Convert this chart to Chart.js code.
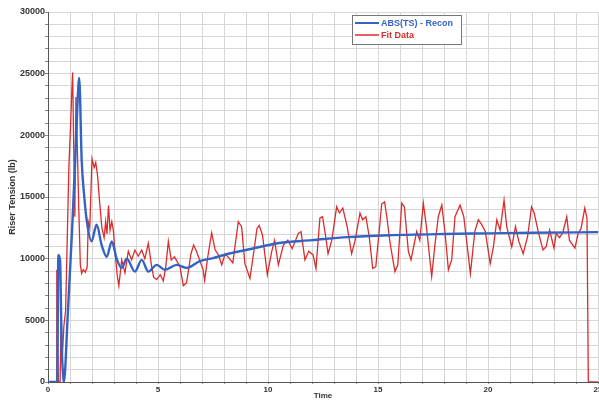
<!DOCTYPE html>
<html>
<head>
<meta charset="utf-8">
<script src="https://cdn.jsdelivr.net/npm/chart.js@4.4.1/dist/chart.umd.min.js"></script>
<style>
    body { margin: 0; background: #fff; }
    #wrap { width: 599px; height: 402px; }
</style>
</head>
<body>
<div id="wrap"><canvas id="tensionChart" width="599" height="402"></canvas></div>
<script>
// Reconstructed riser tension (smooth curve)
const reconTime = [0, 0.42, 0.47, 0.55, 0.62, 0.7, 0.72, 0.9, 1.1, 1.25, 1.35, 1.42, 1.53, 1.65, 1.76, 1.98, 2.21, 2.44,
    2.67, 2.9, 3.12, 3.35, 3.58, 3.95, 4.26, 4.56, 4.94, 5.32, 5.85, 6.3, 6.9, 7.5, 8.2, 9.0, 10.5, 12.0, 13.6, 15.5,
    18, 20, 22, 25];
const reconTension = [0, 0, 10300, 9800, 3000, 300, 0, 5500, 12500, 18500, 23000, 24650, 18000, 15000, 13100, 11400,
    12750, 11100, 10150, 11400, 10000, 9250, 10000, 8950, 9900, 8950, 9500, 9100, 9500, 9250, 9800, 10050, 10400,
    10700, 11270, 11500, 11750, 11900, 12000, 12050, 12100, 12150];

// Measured tension used for the fit
const fitTime = [0, 0.38, 0.4, 0.43, 0.47, 0.55, 0.6, 0.65, 0.72, 0.8, 0.88, 0.95, 1.02, 1.08, 1.12, 1.17, 1.22, 1.27,
    1.32, 1.4, 1.47, 1.53, 1.6, 1.7, 1.78, 1.83, 1.9, 2.0, 2.1, 2.17, 2.25, 2.35, 2.45, 2.55, 2.62, 2.68, 2.75, 2.82,
    2.9, 2.97, 3.05, 3.15, 3.22, 3.35, 3.5, 3.65, 3.8, 3.95, 4.1, 4.26, 4.4, 4.56, 4.7, 4.8, 4.94, 5.1, 5.24, 5.35,
    5.47, 5.6, 5.75, 6.0, 6.15, 6.3, 6.5, 6.62, 6.75, 6.95, 7.05, 7.12, 7.25, 7.44, 7.6, 7.75, 7.9, 8.05, 8.2, 8.4,
    8.5, 8.65, 8.8, 8.95, 9.18, 9.35, 9.5, 9.6, 9.75, 9.97, 10.17, 10.3, 10.47, 10.7, 10.9, 11.1, 11.38, 11.5, 11.68,
    11.85, 12.05, 12.18, 12.36, 12.48, 12.6, 12.73, 12.9, 13.12, 13.25, 13.4, 13.6, 13.8, 13.95, 14.18, 14.3, 14.45,
    14.6, 14.76, 14.9, 15.17, 15.3, 15.4, 15.55, 15.77, 15.9, 16.08, 16.2, 16.38, 16.5, 16.76, 16.9, 17.06, 17.2,
    17.44, 17.58, 17.74, 17.9, 18.05, 18.2, 18.35, 18.5, 18.73, 18.9, 19.2, 19.4, 19.56, 19.7, 19.88, 20.1, 20.25,
    20.4, 20.55, 20.73, 20.85, 21.08, 21.25, 21.4, 21.6, 21.8, 21.98, 22.1, 22.3, 22.5, 22.65, 22.8, 23.0, 23.1,
    23.25, 23.4, 23.58, 23.7, 23.95, 24.1, 24.23, 24.4, 24.5, 24.56, 25];
const fitTension = [0, 0, 9100, 4000, 0, 0, 5500, 2000, 4500, 5800, 12000, 17500, 20500, 23500, 25100, 19000, 13400,
    23100, 20000, 14000, 9500, 8800, 9100, 8900, 9300, 13000, 12500, 18100, 17400, 17800, 16800, 14500, 12500, 11700,
    13000, 12000, 14300, 12300, 13000, 12300, 10500, 8600, 7800, 9900, 8850, 10600, 9900, 10700, 10200, 10700, 10000,
    11250, 9500, 8500, 8300, 8700, 8200, 9300, 11400, 9900, 10150, 9350, 7800, 8050, 10400, 11100, 10600, 9600, 9100,
    8250, 10000, 12100, 10700, 10300, 9500, 10400, 10100, 9650, 11000, 13000, 12600, 9600, 8400, 10500, 12450, 12700,
    11900, 8700, 10600, 11500, 9500, 11100, 11500, 10800, 12050, 12200, 9900, 10600, 10300, 9200, 13300, 13400, 12050,
    10400, 11500, 14200, 13700, 14100, 12600, 10400, 11400, 13700, 13150, 13400, 11800, 9200, 9350, 14450, 14600,
    13400, 11250, 8950, 9500, 14500, 14200, 10600, 9900, 12200, 11500, 14500, 12600, 8550, 11000, 13400, 14350, 12050,
    9100, 9900, 13400, 14350, 13400, 8800, 12200, 13150, 12800, 12200, 9600, 11000, 13150, 12300, 14750, 12600, 10950,
    12600, 11400, 10400, 11800, 14200, 13700, 12050, 10700, 11000, 12300, 10850, 12050, 11700, 12100, 13400, 11500,
    10850, 12050, 12450, 14100, 13300, 0, 0];

const seriesNames = ['ABS(TS) - Recon', 'Fit Data'];
const seriesColors = ['#3563c4', '#dc2b2b'];

const toPoints = (xs, ys) => xs.map((x, i) => ({ x: x, y: ys[i] }));

// boxed legend inside the plot, top centre-right
const boxLegend = {
    id: 'boxLegend',
    afterDraw(chart) {
        const c = chart.ctx;
        const x = 352, y = 15, w = 109, h = 29;
        c.save();
        c.fillStyle = '#fff';
        c.fillRect(x, y, w, h);
        c.strokeStyle = '#777';
        c.lineWidth = 1;
        c.strokeRect(x + 0.5, y + 0.5, w, h);
        c.font = 'bold 9px "Liberation Sans", Arial, sans-serif';
        c.textBaseline = 'middle';
        chart.data.datasets.forEach((ds, i) => {
            const ly = y + 8 + i * 12;
            c.strokeStyle = ds.borderColor;
            c.lineWidth = i === 0 ? 2 : 1.5;
            c.beginPath();
            c.moveTo(x + 3, ly);
            c.lineTo(x + 27, ly);
            c.stroke();
            c.fillStyle = ds.borderColor;
            c.fillText(ds.label, x + 29, ly + 0.5);
        });
        c.restore();
    }
};

const ctx = document.getElementById('tensionChart').getContext('2d');
new Chart(ctx, {
    type: 'line',
    data: {
        datasets: [{
            label: seriesNames[0],
            data: toPoints(reconTime, reconTension),
            borderColor: seriesColors[0],
            borderWidth: 2.4,
            pointRadius: 0,
            cubicInterpolationMode: 'monotone'
        }, {
            label: seriesNames[1],
            data: toPoints(fitTime, fitTension),
            borderColor: seriesColors[1],
            borderWidth: 1.3,
            pointRadius: 0,
            tension: 0
        }]
    },
    options: {
        responsive: false,
        animation: false,
        layout: { padding: { top: 12, right: 1, left: 0, bottom: 0 } },
        plugins: {
            legend: { display: false },
            tooltip: { enabled: false }
        },
        scales: {
            x: {
                type: 'linear',
                min: 0,
                max: 25,
                grid: { color: '#d6d6d6', tickColor: '#888', tickLength: 2 },
                border: { color: '#555' },
                ticks: {
                    stepSize: 1,
                    autoSkip: false,
                    maxRotation: 0,
                    padding: 1,
                    color: '#333',
                    font: { family: '"Liberation Sans", Arial, sans-serif', size: 8, weight: 'bold' },
                    callback: v => (v % 5 === 0 ? v : '')
                },
                title: {
                    display: true,
                    text: 'Time',
                    color: '#333',
                    padding: { top: 0, bottom: 1 },
                    font: { family: '"Liberation Sans", Arial, sans-serif', size: 8, weight: 'bold' }
                },
                afterFit: s => { s.height = 20; s.paddingLeft = 0; s.paddingRight = 0; }
            },
            y: {
                min: 0,
                max: 30000,
                grid: { color: '#d6d6d6', tickColor: '#888', tickLength: 3 },
                border: { color: '#555' },
                ticks: {
                    stepSize: 1000,
                    autoSkip: false,
                    padding: 0,
                    color: '#333',
                    font: { family: '"Liberation Sans", Arial, sans-serif', size: 9, weight: 'bold' },
                    callback: v => (v % 5000 === 0 ? v : '')
                },
                title: {
                    display: true,
                    text: 'Riser Tension (lb)',
                    color: '#333',
                    padding: { top: 7.5, bottom: 0 },
                    font: { family: '"Liberation Sans", Arial, sans-serif', size: 9, weight: 'bold' }
                },
                afterFit: s => { s.width = 48; }
            }
        }
    },
    plugins: [boxLegend]
});
</script>
</body>
</html>
